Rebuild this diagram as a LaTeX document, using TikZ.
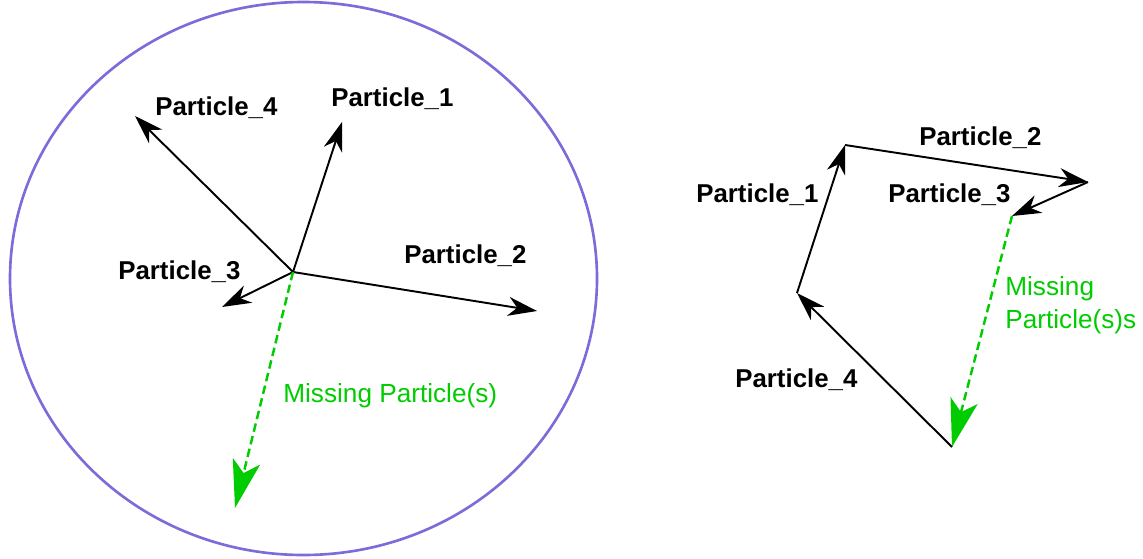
\documentclass[tikz,border=0pt]{standalone}
\usepackage{fontspec}
\setmainfont{Liberation Sans}
\usetikzlibrary{arrows.meta}
\definecolor{ring-purple}{HTML}{7B6CD9}
\definecolor{miss-green}{HTML}{00CC00}

\begin{document}
\begin{tikzpicture}[x=0.02cm, y=-0.02cm,
    vec/.style={draw=black, line width=1.1pt, -{Stealth[length=0.58cm, width=0.38cm, inset=0.18cm]}},
    missing/.style={draw=miss-green, line width=1.4pt, dash pattern=on 0.17cm off 0.09cm, -{Stealth[length=0.96cm, width=0.56cm, inset=0.24cm]}},
    lbl/.style={font=\bfseries\fontsize{14.7}{17}\selectfont, anchor=base west, inner sep=0pt},
    misslbl/.style={font=\fontsize{14.9}{18.6}\selectfont, text=miss-green, inner sep=0pt},
]
    \useasboundingbox (0,0) rectangle (1143,558);

    % Left: the event, all vectors from one vertex
    \draw[ring-purple, line width=1.5pt] (303.5,278.5) ellipse [x radius=293.5, y radius=276.5];

    \coordinate (vtx) at (293,272);
    \coordinate (l-p1) at (342,122);
    \coordinate (l-p2) at (537,311);
    \coordinate (l-p3) at (222,307);
    \coordinate (l-p4) at (135,116);
    \coordinate (l-miss) at (235,508);

    \draw[vec] (vtx) -- (l-p1);
    \draw[vec] (vtx) -- (l-p2);
    \draw[vec] (vtx) -- (l-p3);
    \draw[vec] (vtx) -- (l-p4);
    \draw[missing] (vtx) -- (l-miss);

    \node[lbl] (l-lbl4) at (155,115) {Particle\_4};
    \node[lbl] (l-lbl1) at (331,106) {Particle\_1};
    \node[lbl] (l-lbl3) at (118,279) {Particle\_3};
    \node[lbl] (l-lbl2) at (404,263) {Particle\_2};
    \node[misslbl, anchor=base west] (l-lblm) at (283,402) {Missing Particle(s)};

    % Right: the same vectors head to tail
    \coordinate (r-a) at (952,447);
    \coordinate (r-b) at (797,293);
    \coordinate (r-c) at (845,145);
    \coordinate (r-d) at (1088,182);
    \coordinate (r-e) at (1012,216);

    \draw[vec] (r-a) -- (r-b);
    \draw[vec] (r-b) -- (r-c);
    \draw[vec] (r-c) -- (r-d);
    \draw[vec] (r-d) -- (r-e);
    \draw[missing] (r-e) -- (r-a);

    \node[lbl] (r-lbl1) at (696,202) {Particle\_1};
    \node[lbl] (r-lbl2) at (919,145) {Particle\_2};
    \node[lbl] (r-lbl3) at (888,202) {Particle\_3};
    \node[lbl] (r-lbl4) at (735,387) {Particle\_4};
    \node[misslbl, anchor=north west, align=left] (r-lblm) at (1005,276) {Missing\\Particle(s)s};
\end{tikzpicture}
\end{document}
